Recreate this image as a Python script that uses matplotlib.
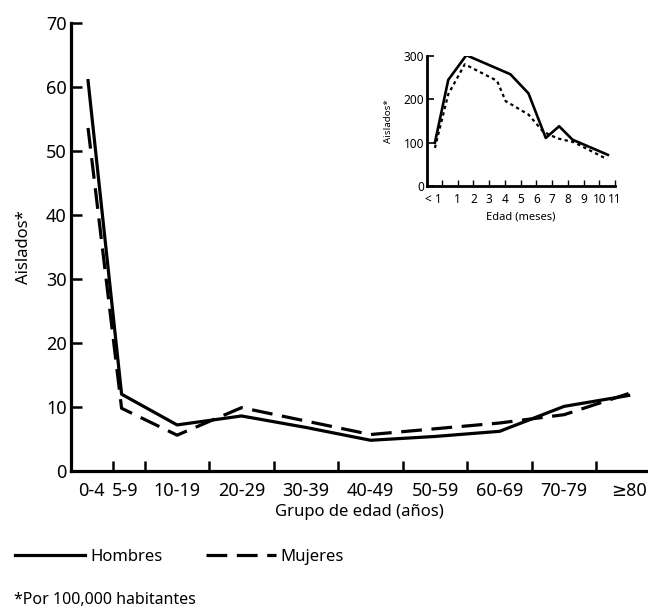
import matplotlib.pyplot as plt

plt.rcParams['font.family'] = ['Noto Sans', 'DejaVu Sans']

# Datos: grupos de edad (gráfica principal)
grupos = ['0-4', '5-9', '10-19', '20-29', '30-39', '40-49', '50-59', '60-69', '70-79', '≥80']
pos_grupos = [1.2, 6.4, 15, 25, 35, 45, 55, 65, 75, 85]
limites = [5, 10, 20, 30, 40, 50, 60, 70, 80]
hombres = [61, 12, 7.2, 8.6, 6.8, 4.8, 5.4, 6.2, 10.1, 11.8]
mujeres = [53.6, 9.8, 5.6, 9.9, 7.8, 5.7, 6.6, 7.5, 8.8, 12.1]

# Datos: primer año de vida (recuadro)
meses_h = [-0.45, 0.4, 1.55, 4.35, 5.5, 6.6, 7.45, 8.3, 10.55]
casos_h = [100, 245, 302, 258, 214, 111, 138, 107, 72]
meses_m = [-0.45, 0.4, 1.45, 3.5, 4.05, 5.5, 6.45, 7.35, 8.4, 10.5]
casos_m = [88, 212, 281, 243, 196, 165, 125, 110, 101, 62]
etiquetas_meses = ['< 1', '1', '2', '3', '4', '5', '6', '7', '8', '9', '10', '11']

fig = plt.figure(figsize=(6.48, 6.14), dpi=100)

# Gráfica principal
ax = fig.add_axes([0.1096, 0.2329, 0.8904, 0.7296])
lh, = ax.plot(pos_grupos, hombres, color='black', lw=2.3)
lm, = ax.plot(pos_grupos, mujeres, color='black', lw=2.3, dashes=(6.5, 3))
ax.set_xlim(-1.44, 88.0)
ax.set_ylim(0, 70)
ax.set_yticks(range(0, 71, 10))
ax.set_xticks([1.7, 6.9, 15, 25, 35, 45, 55, 65, 75, 85])
ax.set_xticklabels(grupos)
ax.set_xticks(limites, minor=True)
ax.tick_params(axis='x', which='major', length=0, pad=8, labelsize=13)
ax.tick_params(axis='x', which='minor', direction='in', length=7, width=1.8)
ax.tick_params(axis='y', direction='in', length=8, width=1.8, pad=3, labelsize=13)
for s in ['top', 'right']:
    ax.spines[s].set_visible(False)
for s in ['left', 'bottom']:
    ax.spines[s].set_linewidth(2.3)
ax.set_ylabel('Aislados*', fontsize=12, labelpad=10)
ax.set_xlabel('Grupo de edad (años)', fontsize=12, labelpad=3)

# Recuadro
ins = fig.add_axes([0.659, 0.697, 0.290, 0.2117])
ins.plot(meses_h, casos_h, color='black', lw=1.9)
ins.plot(meses_m, casos_m, color='black', lw=1.6, dashes=(1.5, 1.5))
ins.set_xlim(-0.95, 11)
ins.set_ylim(0, 300)
ins.set_yticks([0, 100, 200, 300])
ins.set_xticks(range(0, 12))
ins.set_xticklabels(etiquetas_meses)
ins.get_xticklabels()[0].set_horizontalalignment('right')
ins.tick_params(axis='x', direction='in', length=4.5, width=1, pad=5, labelsize=8.5)
ins.tick_params(axis='y', direction='in', length=5, width=1.2, pad=2, labelsize=8.5)
for lab in ins.get_xticklabels() + ins.get_yticklabels():
    lab.set_fontweight('bold')
for s in ['top', 'right']:
    ins.spines[s].set_visible(False)
for s in ['left', 'bottom']:
    ins.spines[s].set_linewidth(2)
ins.set_ylabel('Aislados*', fontsize=7, labelpad=8)
ins.set_xlabel('Edad (meses)', fontsize=8, fontweight='bold', labelpad=4)

# Leyenda
fig.legend([lh, lm], ['Hombres', 'Mujeres'], loc='lower left',
           bbox_to_anchor=(0.0, 0.055), ncol=2, frameon=False,
           handlelength=4.2, handletextpad=0.3, columnspacing=2.6, fontsize=12)

fig.text(0.022, 0.016, '*Por 100,000 habitantes', fontsize=11.5)

fig.savefig('out.png', dpi=100)
